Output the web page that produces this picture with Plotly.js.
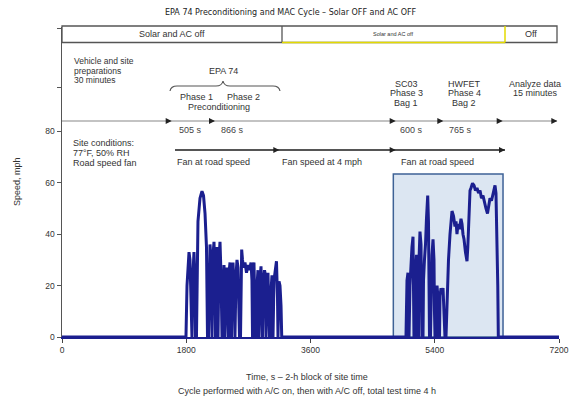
<!DOCTYPE html>
<html><head><meta charset="utf-8">
<script src="https://cdn.plot.ly/plotly-3.0.1.min.js"></script>
<style>html,body{margin:0;padding:0;background:#fff}</style>
</head><body><div id="chart" style="width:573px;height:399px"></div>
<script>
// ---- data (time in s, speed in mph) ----
const time = [0,
 1796,1811,1825,1840,1854,1869,1876,1883,1898,1912,1927,1934,1948,1956,1970,1999,2028,2050,2072,2093,2101,2108,
 2122,2130,2144,2159,2173,2188,2202,2217,2224,2231,2245,2260,2274,2289,2303,2318,2332,2347,2361,2376,2390,2405,2412,
 2419,2434,2448,2456,2463,2477,2492,2499,2506,2521,2535,2550,2564,2571,2586,2593,2603,2615,2629,2651,2673,2695,2716,
 2738,2752,2760,2767,2781,2796,2803,2818,2825,2839,2854,2868,2883,2897,2904,2919,2934,2948,2955,2970,2984,2999,3006,
 3020,3028,3042,3057,3071,3093,3107,3122,3129,3144,3158,3173,3183,
 4983,4991,4998,5012,5020,5027,5041,5056,5070,5085,5095,5099,5114,5121,5136,5150,5157,5165,5172,5186,5201,5208,5215,
 5230,5237,5251,5266,5280,5298,5309,5317,5324,5338,5346,5360,5375,5389,5396,5404,5418,5433,5447,5454,5469,5476,5491,
 5505,5520,5534,5548,
 5563,5577,5599,5621,5635,5650,5672,5693,5708,5722,5737,5759,5780,5795,5809,5824,5845,5867,5879,5889,5901,5911,5925,
 5947,5969,5990,6012,6034,6056,6077,6099,6121,6142,6164,6179,6200,6222,6237,6258,6273,6287,6302,6313,6321,
 7200];
const speed = [0,
 0,20,28,33,30,10,0,0,25,33,22,0,0,30,45,54,56.7,55,48,35,20,0,
 0,25,36,30,0,32,37,20,0,28,35,0,30,37,25,0,20,28,0,22,27,15,0,
 25,29,10,0,22,29,20,0,0,24,30,27,10,0,0,28,34,30,27,29,25,28,26,
 29,22,0,25,29,12,0,0,20,26,0,22,27.5,10,0,22,26,24,0,20,25,8,0,
 0,18,24,0,22,28,29.5,15,0,21.7,20,12,0,
 0,15,22,25,10,0,20,30,35,39,20,0,0,25,32,30,0,0,30,41,36,10,0,
 0,22,30,36,46,55,45,20,0,0,22,32,38,30,10,0,0,20,15,0,0,16,19,
 17,19,12,0,
 0,15,30,40,46,49,47,43,45,40,44,42,46,44,40,38,33,29.5,35,45,52,57,58,
 59.8,59,57,58,56,57,54,55,52,50,48,51,54,53,55,58,59,56,40,20,0,
 0];
const xTicks = [0, 1800, 3600, 5400, 7200];
const yTicks = [0, 20, 40, 60, 80, 97, 120];
const yTickText = ['0', '20', '40', '60', '80', '', ''];
const testBox = {t0: 4800, t1: 6389, top: 63.4};

// ---- layout helpers: reference pixel -> paper coords ----
const L = 62, R = 559, T = 27, B = 337;
const px = X => (X - L) / (R - L);
const py = Y => (B - Y) / (B - T);
const FONT = 'Liberation Sans, Arial, sans-serif';
const annotations = [];
function txt(s, X, Y, o) {
  o = o || {};
  annotations.push({text: s, xref: 'paper', yref: 'paper', x: px(X), y: py(Y),
    xanchor: o.anchor || 'center', yanchor: 'middle', showarrow: false,
    textangle: o.angle || 0,
    font: {family: o.family || FONT, size: o.size || 9, color: o.color || '#333'}});
}
function head(X, Y) {
  annotations.push({text: '', xref: 'paper', yref: 'paper', x: px(X), y: py(Y),
    ax: -7, ay: 0, axref: 'pixel', ayref: 'pixel', showarrow: true,
    arrowhead: 2, arrowsize: 1, arrowwidth: 1.2, arrowcolor: '#222', standoff: 0});
}
function seg(X0, Y0, X1, Y1, color, width) {
  return {type: 'line', xref: 'paper', yref: 'paper', x0: px(X0), y0: py(Y0), x1: px(X1), y1: py(Y1),
    line: {color: color, width: width}};
}
function pathPx(cmds) {
  return cmds.map(c => c[0] + c.slice(1).map((v, i) => i % 2 === 0 ? px(v) : py(v))
    .reduce((a, v, i) => a + (i % 2 === 0 ? (i ? ' ' : '') + v : ',' + v), '')).join(' ');
}

const shapes = [
  {type: 'rect', xref: 'x', yref: 'y', x0: testBox.t0, x1: testBox.t1, y0: 0, y1: testBox.top,
   fillcolor: '#dce6f2', line: {color: '#3e6296', width: 1.5}, layer: 'below'},
  {type: 'rect', xref: 'paper', yref: 'paper', x0: px(62), x1: px(557), y0: py(42.5), y1: py(26),
   line: {color: '#555', width: 1.3}},
  seg(282, 26, 282, 42.5, '#555', 1.3),
  seg(282, 42.5, 505, 42.5, '#e3da00', 1.5),
  seg(505, 26, 505, 42.5, '#e3da00', 1.5),
  seg(62, 121, 557, 121, '#888', 1.2),
  seg(175, 150, 505, 150, '#555', 2),
  {type: 'path', xref: 'paper', yref: 'paper', line: {color: '#555', width: 1.2},
   path: pathPx([['M', 170, 91], ['Q', 171, 86, 177, 86], ['L', 216, 86], ['Q', 222, 86, 223, 81],
                 ['Q', 224, 86, 230, 86], ['L', 273, 86], ['Q', 279, 86, 280, 91]])}
];

[171.7, 215, 395.7, 443.3, 502.7, 557.3].forEach(X => head(X, 121));
[279.3, 395.7, 505].forEach(X => head(X, 150));

txt('EPA 74 Preconditioning and MAC Cycle \u2013 Solar OFF and AC OFF', 291, 12, {family: 'DejaVu Sans, sans-serif', size: 8, color: '#222'});
txt('Solar and AC off', 172, 34);
txt('Solar and AC off', 393, 34, {size: 5.5});
txt('Off', 531, 34);
txt('Vehicle and site', 72, 61, {anchor: 'left', size: 8.5});
txt('preparations', 72, 70.5, {anchor: 'left', size: 8.5});
txt('30 minutes', 72, 80, {anchor: 'left', size: 8.5});
txt('EPA 74', 223, 71);
txt('Phase 1', 196, 97);
txt('Phase 2', 243, 97);
txt('Preconditioning', 219, 106.5);
['SC03', 'Phase 3', 'Bag 1'].forEach((s, i) => txt(s, 406, 84 + i * 9.5));
['HWFET', 'Phase 4', 'Bag 2'].forEach((s, i) => txt(s, 464, 84 + i * 9.5));
['Analyze data', '15 minutes'].forEach((s, i) => txt(s, 535, 84 + i * 9.5));
txt('505 s', 190.5, 130, {color: '#444'});
txt('866 s', 232.5, 130, {color: '#444'});
txt('600 s', 411, 130, {color: '#444'});
txt('765 s', 460, 130, {color: '#444'});
['Site conditions:', '77\u00b0F, 50% RH', 'Road speed fan'].forEach((s, i) => txt(s, 71, 143 + i * 10, {anchor: 'left'}));
txt('Fan at road speed', 175, 162, {anchor: 'left'});
txt('Fan speed at 4 mph', 280, 162, {anchor: 'left'});
txt('Fan at road speed', 399, 162, {anchor: 'left'});
txt('Time, s \u2013 2-h block of site time', 307, 377);
txt('Cycle performed with A/C on, then with A/C off, total test time 4 h', 307, 391);
txt('Speed, mph', 17, 182, {angle: -90});

const trace = {x: time, y: speed, type: 'scatter', mode: 'lines',
  line: {color: '#1b1f8f', width: 3}, hoverinfo: 'skip'};

const layout = {
  width: 573, height: 399,
  margin: {l: 62, r: 14, t: 27, b: 62, pad: 0},
  paper_bgcolor: '#fff', plot_bgcolor: '#fff', showlegend: false,
  xaxis: {range: [0, 7200], tickvals: xTicks, ticks: 'outside', ticklen: 4, tickcolor: '#444',
    showline: true, linecolor: '#1b1f8f', linewidth: 2, showgrid: false, zeroline: false,
    tickfont: {family: FONT, size: 8.5, color: '#333'}, fixedrange: true},
  yaxis: {range: [0, 120.6], tickvals: yTicks, ticktext: yTickText, ticks: 'outside', ticklen: 4,
    tickcolor: '#555', showline: true, linecolor: '#555', linewidth: 1.5, showgrid: false, zeroline: false,
    tickfont: {family: FONT, size: 8.5, color: '#333'}, fixedrange: true},
  shapes: shapes, annotations: annotations
};
Plotly.newPlot('chart', [trace], layout, {staticPlot: true, displayModeBar: false});
</script></body></html>
